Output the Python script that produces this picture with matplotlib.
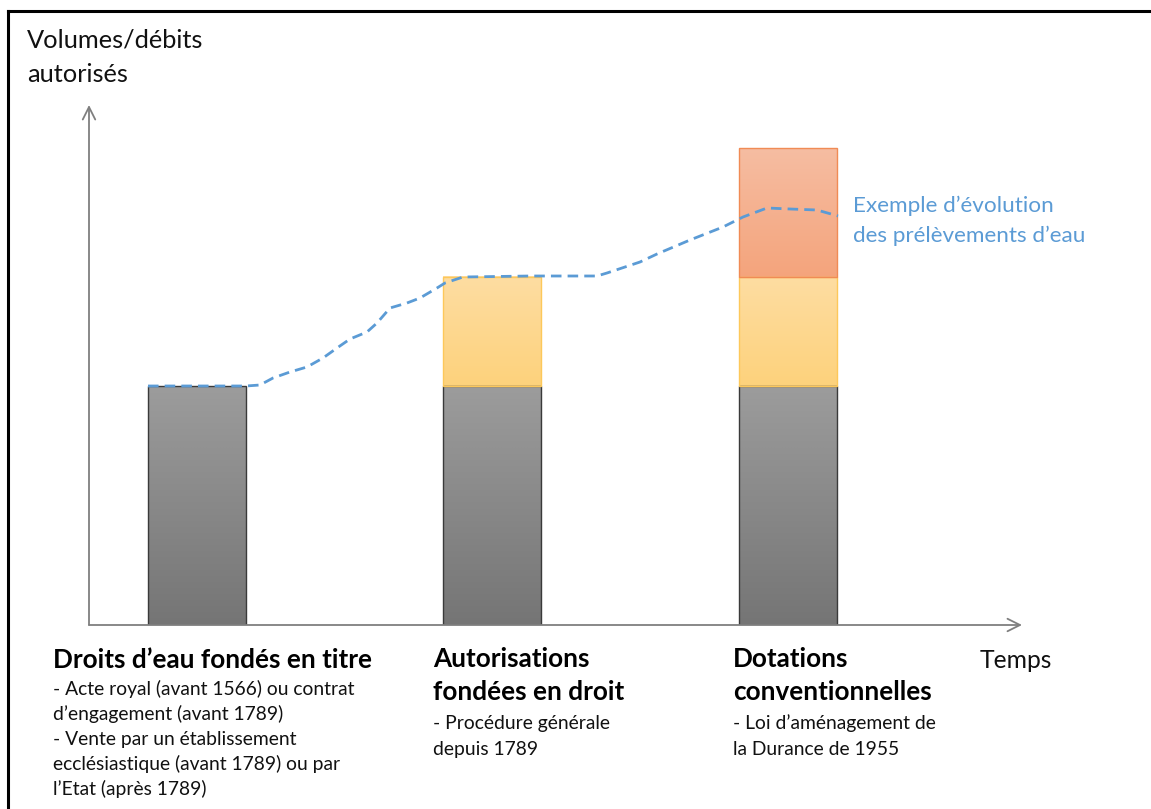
import numpy as np
import matplotlib
matplotlib.use("Agg")
import matplotlib.pyplot as plt
from matplotlib.colors import LinearSegmentedColormap
from matplotlib.patches import Rectangle

# ---- data ----
bar_positions = [1.08, 4.03, 6.99]
bar_width = 0.98
base_values = [2.39, 2.39, 2.39]       # grey: droits fondés en titre
droit_values = [0.0, 1.09, 1.09]       # yellow: autorisations fondées en droit
conv_values = [0.0, 0.0, 1.29]         # orange: dotations conventionnelles

line_x = [0.59, 1.11, 1.57, 1.71, 1.84, 2.01, 2.18, 2.34, 2.48, 2.61, 2.78, 2.88,
          3.01, 3.18, 3.31, 3.48, 3.56, 3.74, 4.41, 5.08, 5.18, 5.51, 5.68, 6.01,
          6.34, 6.54, 6.78, 7.01, 7.28, 7.49]
line_y = [2.39, 2.39, 2.39, 2.40, 2.47, 2.53, 2.58, 2.67, 2.77, 2.86, 2.93, 3.02,
          3.17, 3.22, 3.27, 3.37, 3.42, 3.48, 3.49, 3.49, 3.52, 3.63, 3.71, 3.85,
          3.98, 4.08, 4.17, 4.16, 4.15, 4.09]

titles = [["Droits d\u2019eau fondés en titre"],
          ["Autorisations", "fondées en droit"],
          ["Dotations", "conventionnelles"]]
bodies = [["- Acte royal (avant 1566) ou contrat",
           "d\u2019engagement (avant 1789)",
           "- Vente par un établissement",
           "ecclésiastique (avant 1789) ou par",
           "l\u2019Etat (après 1789)"],
          ["- Procédure générale", "depuis 1789"],
          ["- Loi d\u2019aménagement de", "la Durance de 1955"]]
ylabel_lines = ["Volumes/débits", "autorisés"]
xlabel = "Temps"
line_label = ["Exemple d\u2019évolution", "des prélèvements d\u2019eau"]

FONT = ["Lato", "DejaVu Sans"]
W, H = 1151, 809
fig = plt.figure(figsize=(W / 100, H / 100), dpi=100)

def fx(px):
    return px / W

def fy(py):
    return 1 - py / H

# frame (top + left)
fig.add_artist(plt.Line2D([fx(8), 1.0], [fy(10.5), fy(10.5)], color="black", lw=2.2))
fig.add_artist(plt.Line2D([fx(8), fx(8)], [fy(10.5), 0.0], color="black", lw=2.2))

ax = fig.add_axes([fx(89), fy(625), fx(1022) - fx(89), fy(105) - fy(625)])
ax.set_xlim(0, 9.33)
ax.set_ylim(0, 5.2)
ax.axis("off")

def grad_bar(x0, y0, w, h, ctop, cbot, edge, lw=1.0):
    if h <= 0:
        return
    cmap = LinearSegmentedColormap.from_list("g", [cbot, ctop])
    g = np.linspace(0, 1, 256).reshape(-1, 1)
    ax.imshow(g, cmap=cmap, extent=[x0, x0 + w, y0, y0 + h], origin="lower",
              aspect="auto", zorder=1, interpolation="bilinear")
    ax.add_patch(Rectangle((x0, y0), w, h, fill=False, edgecolor=edge, lw=lw, zorder=2))

for i, xc in enumerate(bar_positions):
    x0 = xc - bar_width / 2
    grad_bar(x0, 0, bar_width, base_values[i], "#9c9c9c", "#757575", "#3a3a3a", 1.0)
    grad_bar(x0, base_values[i], bar_width, droit_values[i], "#fedda2", "#fdd27c", "#fdc85a", 1.0)
    grad_bar(x0, base_values[i] + droit_values[i], bar_width, conv_values[i],
             "#f6bda2", "#f4a47c", "#f08b55", 1.0)

ax.set_xlim(0, 9.33)
ax.set_ylim(0, 5.2)

ax.plot(line_x, line_y, color="#5b9bd5", lw=2.0, linestyle=(0, (3.8, 2.2)),
        zorder=3, solid_capstyle="butt")

# axis arrows
arrow_kw = dict(arrowstyle="->,head_length=0.9,head_width=0.45", color="#7f7f7f", lw=1.3,
                shrinkA=0, shrinkB=0)
ax.annotate("", xy=(9.33, 0), xytext=(0, 0), xycoords="data", arrowprops=arrow_kw,
            annotation_clip=False)
ax.annotate("", xy=(0, 5.2), xytext=(0, 0), xycoords="data", arrowprops=arrow_kw,
            annotation_clip=False)

# texts
fig.text(fx(27), fy(48), ylabel_lines[0], fontsize=18.3, family=FONT, va="baseline", color="#111111")
fig.text(fx(27), fy(82), ylabel_lines[1], fontsize=18.3, family=FONT, va="baseline", color="#111111")
fig.text(fx(980), fy(668), xlabel, fontsize=17.7, family=FONT, va="baseline", color="#111111")

fig.text(fx(853), fy(212), line_label[0], fontsize=16.2, family=FONT, va="baseline", color="#5b9bd5")
fig.text(fx(853), fy(242), line_label[1], fontsize=16.2, family=FONT, va="baseline", color="#5b9bd5")

col_x = [53, 433, 733]
title_base = [[668], [667, 700], [667, 700]]
body_base = [[695, 720, 745, 770, 795], [729, 755], [729, 755]]
for c in range(3):
    for t, b in zip(titles[c], title_base[c]):
        fig.text(fx(col_x[c]), fy(b), t, fontsize=18.8, fontweight="bold", family=FONT,
                 va="baseline", color="black")
    for t, b in zip(bodies[c], body_base[c]):
        fig.text(fx(col_x[c]), fy(b), t, fontsize=13.9, family=FONT, va="baseline",
                 color="#111111")

fig.savefig("out.png", dpi=100, facecolor="white")
